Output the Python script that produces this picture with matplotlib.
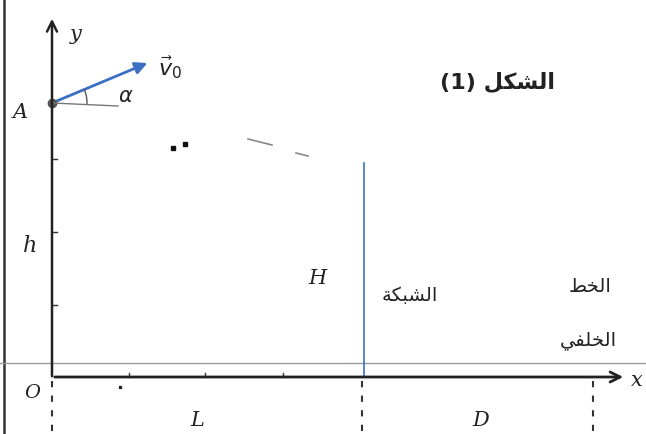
import matplotlib.pyplot as plt
from matplotlib.patches import FancyArrowPatch, Arc

# Diagram geometry (pixel units of the scanned figure)
origin = (52, 377)          # O
point_A = (52, 103)         # launch point A
v0_tip = (150, 62)          # end of the initial velocity vector
net_x = 364                 # the net
net_top = 163
back_x = 593                # back line
x_axis_end = 626
y_axis_top = 16
ticks_x = [129, 205, 283]
ticks_y = [159, 232, 305]
guide_y = 363               # faint scan line
traj_dots_x = [173, 185]
traj_dots_y = [148, 144]
traj_dash_x = [[248, 272], [296, 308]]
traj_dash_y = [[139, 145], [153, 156]]

# Arabic labels (presentation forms, visual order)
fig_label = "(1) " + "\uFEDE\uFEDC\uFEB8\uFEDF\uFE8D"     # الشكل
net_label = "\uFE94\uFEDC\uFE92\uFEB8\uFEDF\uFE8D"        # الشبكة
back1_label = "\uFEC2\uFEA8\uFEDF\uFE8D"                  # الخط
back2_label = "\uFEF2\uFED4\uFEE0\uFEA8\uFEDF\uFE8D"      # الخلفي

fig = plt.figure(figsize=(6.46, 4.34), dpi=100)
ax = fig.add_axes([0, 0, 1, 1])
ax.set_xlim(0, 646)
ax.set_ylim(434, 0)
ax.axis('off')

# scan border and faint guide line
ax.plot([4, 4], [0, 434], color='#333333', lw=1.8)
ax.plot([0, 646], [guide_y, guide_y], color='#999999', lw=1.0)

# axes
ax.annotate('', xy=(origin[0], y_axis_top), xytext=(origin[0], origin[1] + 2),
            arrowprops=dict(arrowstyle='->', color='#222222', lw=1.8, mutation_scale=18))
ax.annotate('', xy=(x_axis_end, origin[1]), xytext=(origin[0], origin[1]),
            arrowprops=dict(arrowstyle='->', color='#222222', lw=2.0, mutation_scale=18))
for tx in ticks_x:
    ax.plot([tx, tx], [origin[1], origin[1] - 4], color='#333333', lw=1)
for ty in ticks_y:
    ax.plot([origin[0], origin[0] + 5], [ty, ty], color='#333333', lw=1)
ax.plot([120], [387], marker='s', ms=2, color='#222222')

# dashed verticals below the axis
for vx in [origin[0], net_x - 2, back_x]:
    ax.plot([vx, vx], [origin[1] + 4, 434], color='#333333', lw=1.5, ls=(0, (3, 4)))

# net
ax.plot([net_x, net_x], [net_top, origin[1]], color='#3a6fc4', lw=1.2)

# initial velocity and angle
ax.plot([point_A[0]], [point_A[1]], marker='o', ms=6, color='#555555')
ax.add_patch(FancyArrowPatch(point_A, v0_tip, arrowstyle='-|>', mutation_scale=18,
                             color='#3a6fc4', lw=2))
ax.plot([point_A[0], 118], [point_A[1], 106], color='#777777', lw=1)
ax.add_patch(Arc(point_A, 70, 70, theta1=-23, theta2=2, color='#555555', lw=1))

# trajectory remnants
ax.plot(traj_dots_x, traj_dots_y, ls='none', marker='s', ms=2.5, color='#111111')
for xs, ys in zip(traj_dash_x, traj_dash_y):
    ax.plot(xs, ys, color='#888888', lw=1.2)

# labels
it = dict(style='italic', family='DejaVu Serif', color='#222222')
ax.text(76, 34, 'y', fontsize=15, ha='center', va='center', **it)
ax.text(637, 381, 'x', fontsize=15, ha='center', va='center', **it)
ax.text(20, 112, 'A', fontsize=15, ha='center', va='center', **it)
ax.text(30, 246, 'h', fontsize=16, ha='center', va='center', **it)
ax.text(32, 393, 'O', fontsize=14, ha='center', va='center', **it)
ax.text(197, 420, 'L', fontsize=15, ha='center', va='center', **it)
ax.text(481, 421, 'D', fontsize=15, ha='center', va='center', **it)
ax.text(317, 279, 'H', fontsize=15, ha='center', va='center', **it)
ax.text(126, 96, r'$\alpha$', fontsize=15, ha='center', va='center', color='#222222')
ax.text(170, 68, r'$\vec{v}_0$', fontsize=16, ha='center', va='center', color='#222222')

ar = dict(family=['DejaVu Sans'], ha='center', va='center', color='#222222')
ax.text(497, 82, fig_label, fontsize=16, fontweight='bold', **ar)
ax.text(410, 296, net_label, fontsize=14, **ar)
ax.text(590, 287, back1_label, fontsize=14, **ar)
ax.text(588, 340, back2_label, fontsize=14, **ar)

fig.savefig('out.png', dpi=100)
